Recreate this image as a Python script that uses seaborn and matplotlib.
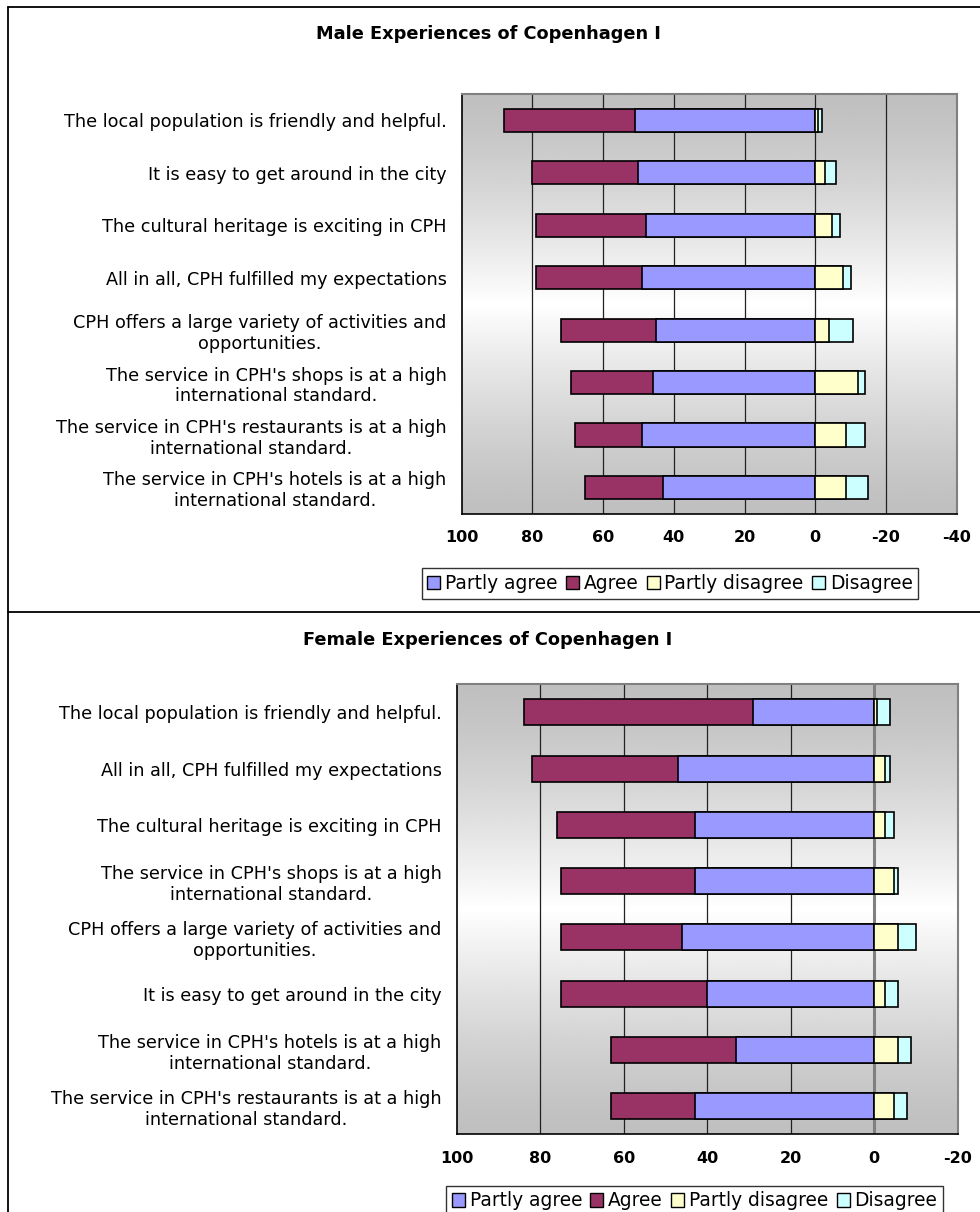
"""Male / female experiences of Copenhagen: diverging stacked bars."""

import matplotlib
matplotlib.use("Agg")
import matplotlib.pyplot as plt
from matplotlib.lines import Line2D
from matplotlib.patches import Patch
import numpy as np
import seaborn as sns

# ---- data (percent) ----
LOCAL = "The local population is friendly and helpful."
EASY = "It is easy to get around in the city"
CULTURE = "The cultural heritage is exciting in CPH"
ALL_IN_ALL = "All in all, CPH fulfilled my expectations"
VARIETY = "CPH offers a large variety of activities and\nopportunities."
SHOPS = "The service in CPH's shops is at a high\ninternational standard."
RESTAURANTS = "The service in CPH's restaurants is at a high\ninternational standard."
HOTELS = "The service in CPH's hotels is at a high\ninternational standard."

male_labels = [LOCAL, EASY, CULTURE, ALL_IN_ALL, VARIETY, SHOPS, RESTAURANTS, HOTELS]
male_partly_agree = [51, 50, 48, 49, 45, 46, 49, 43]
male_agree = [37, 30, 31, 30, 27, 23, 19, 22]
male_partly_disagree = [0.8, 2.8, 4.7, 7.9, 3.9, 12, 8.8, 8.8]
male_disagree = [1.1, 3.2, 2.2, 2.2, 6.9, 2.0, 5.3, 6.1]

female_labels = [LOCAL, ALL_IN_ALL, CULTURE, SHOPS, VARIETY, EASY, HOTELS, RESTAURANTS]
female_partly_agree = [29, 47, 43, 43, 46, 40, 33, 43]
female_agree = [55, 35, 33, 32, 29, 35, 30, 20]
female_partly_disagree = [0.6, 2.7, 2.7, 4.8, 5.8, 2.7, 5.8, 4.8]
female_disagree = [3.2, 1.1, 2.1, 1.0, 4.1, 3.1, 3.1, 3.1]

series_names = ["Partly agree", "Agree", "Partly disagree", "Disagree"]
series_colors = ["#9999FF", "#993366", "#FFFFCC", "#CCFFFF"]

W, H = 980, 1212
FONT = 12.7


def _gradient(ax):
    t = np.linspace(0, 1, 256)
    g = 0.75 + 0.25 * (1 - np.abs(t - 0.5) / 0.5) ** 1.3
    img = np.repeat(g[:, None], 2, axis=1)
    ax.imshow(img, cmap="gray", vmin=0, vmax=1, aspect="auto",
              extent=[0, 1, 0, 1], transform=ax.transAxes, zorder=0,
              interpolation="bilinear")


def _panel(ax, labels, pa, ag, pdis, dis, xmax_neg, bar_h, zero_grey):
    pa = np.asarray(pa, float)
    ag = np.asarray(ag, float)
    pdis = np.asarray(pdis, float)
    dis = np.asarray(dis, float)

    _gradient(ax)
    common = dict(orient="h", ax=ax, edgecolor="black", linewidth=1.2,
                  width=bar_h, zorder=3, order=labels, saturation=1)
    # positive side (drawn to the left because the axis is reversed)
    sns.barplot(x=pa + ag, y=labels, color=series_colors[1], **common)
    sns.barplot(x=pa, y=labels, color=series_colors[0], **common)
    # negative side
    sns.barplot(x=-(pdis + dis), y=labels, color=series_colors[3], **common)
    sns.barplot(x=-pdis, y=labels, color=series_colors[2], **common)

    ax.set_xlim(100, xmax_neg)
    ax.set_ylim(len(labels) - 0.5, -0.5)
    ticks = np.arange(100, xmax_neg - 1, -20)
    ax.set_xticks(ticks)
    ax.set_xticklabels([f"{t:d}" for t in ticks], fontweight="bold", fontsize=11.5)
    for t in ticks[1:-1]:
        if t == 0 and zero_grey:
            ax.axvline(t, color="#808080", lw=2.2, zorder=1)
        else:
            ax.axvline(t, color="#222222", lw=0.9, zorder=1)

    ax.set_yticks(np.arange(len(labels)))
    ax.set_yticklabels(labels, fontsize=FONT)
    for lbl in ax.get_yticklabels():
        lbl.set_multialignment("center")
    ax.tick_params(axis="y", which="major", length=0, pad=10.8)
    ax.set_yticks(np.arange(-0.5, len(labels)), minor=True)
    ax.tick_params(axis="y", which="minor", length=6, width=1, direction="out")
    ax.tick_params(axis="x", length=6, width=1, direction="out", pad=6)
    ax.set_xlabel("")
    ax.set_ylabel("")
    ax.grid(False)

    for side in ("left", "bottom"):
        ax.spines[side].set_color("black")
        ax.spines[side].set_linewidth(1.2)
    for side in ("top", "right"):
        ax.spines[side].set_color("#808080")
        ax.spines[side].set_linewidth(1.5)
        ax.spines[side].set_visible(True)


def main():
    sns.set_theme(style="white")
    plt.rcParams["font.family"] = ["DejaVu Sans"]
    for key in ("text.color", "axes.labelcolor", "xtick.color", "ytick.color"):
        plt.rcParams[key] = "black"

    fig = plt.figure(figsize=(W / 100, H / 100), dpi=100)

    def axes_px(left, top, right, bottom):
        return fig.add_axes([left / W, 1 - bottom / H, (right - left) / W, (bottom - top) / H])

    ax_m = axes_px(461.7, 94, 956.7, 513.7)
    ax_f = axes_px(456.7, 684.3, 957.7, 1134.3)

    _panel(ax_m, male_labels, male_partly_agree, male_agree,
           male_partly_disagree, male_disagree, -40, 0.44, False)
    _panel(ax_f, female_labels, female_partly_agree, female_agree,
           female_partly_disagree, female_disagree, -20, 0.46, True)

    fig.text(488 / W, 1 - 34 / H, "Male Experiences of Copenhagen I",
             ha="center", va="center", fontsize=12.8, fontweight="bold")
    fig.text(488 / W, 1 - 640 / H, "Female Experiences of Copenhagen I",
             ha="center", va="center", fontsize=12.8, fontweight="bold")

    handles = [Patch(facecolor=c, edgecolor="black", linewidth=1.0, label=n)
               for n, c in zip(series_names, series_colors)]
    leg_kw = dict(ncol=4, fontsize=13.4, frameon=True, fancybox=False,
                  edgecolor="black", handlelength=0.7, handleheight=0.7,
                  handletextpad=0.25, columnspacing=0.45, borderpad=0.3,
                  borderaxespad=0)
    leg1 = fig.legend(handles=handles, loc="center", bbox_to_anchor=(670 / W, 1 - 583.5 / H), **leg_kw)
    leg2 = fig.legend(handles=handles, loc="center", bbox_to_anchor=(694.5 / W, 1 - 1201 / H), **leg_kw)
    for leg in (leg1, leg2):
        leg.get_frame().set_linewidth(1.0)

    # outer frame lines of the two chart boxes
    for y in (7, 612):
        fig.add_artist(Line2D([8 / W, 1], [1 - y / H, 1 - y / H], color="black", lw=1.3))
    fig.add_artist(Line2D([8 / W, 8 / W], [0, 1 - 7 / H], color="black", lw=1.3))

    fig.savefig("out.png", dpi=100, facecolor="white")
    plt.close(fig)


if __name__ == "__main__":
    main()
